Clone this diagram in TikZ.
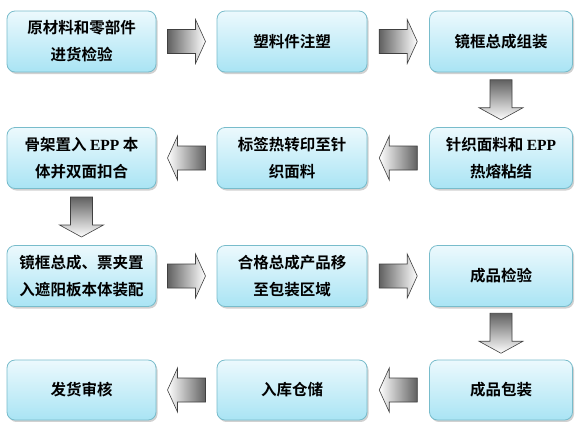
\documentclass[tikz,border=0pt]{standalone}
\usepackage{fontspec}
\setmainfont{Noto Sans CJK SC}[BoldFont={Noto Sans CJK SC Bold}]
\newfontfamily\latinb{Liberation Serif}
\usetikzlibrary{shadows,calc}
\definecolor{boxtop}{HTML}{ECF9FD}
\definecolor{boxbot}{HTML}{A9E4F4}
\definecolor{boxborder}{HTML}{78BCCB}
\newcommand\EPP{{\latinb\bfseries EPP}}
\tikzset{
  stepbox/.style={draw=boxborder, line width=0.8pt, rounded corners=8pt,
    top color=boxtop, bottom color=boxbot, align=center, inner sep=0pt,
    minimum height=61pt,
    font=\fontsize{15.5}{27}\selectfont\bfseries,
    drop shadow={shadow xshift=1.5pt, shadow yshift=-2pt, opacity=0.3, fill=black!60}},
  barrow/.style={draw=black!75, line width=0.6pt}
}
\newcommand\arrR[2]{\begin{scope}[shift={($(#1.east)!0.5!(#2.west)$)}]
  \shade[barrow, left color=black!62, right color=white]
  (-19,-12) -- (9,-12) -- (9,-22) -- (19,0) -- (9,22) -- (9,12) -- (-19,12) -- cycle;
\end{scope}}
\newcommand\arrL[2]{\begin{scope}[shift={($(#1.west)!0.5!(#2.east)$)}]
  \shade[barrow, right color=black!62, left color=white]
  (19,-12) -- (-9,-12) -- (-9,-22) -- (-19,0) -- (-9,22) -- (-9,12) -- (19,12) -- cycle;
\end{scope}}
\newcommand\arrD[2]{\begin{scope}[shift={($(#1.south)!0.5!(#2.north)$)}]
  \shade[barrow, top color=black!62, bottom color=white]
  (-11,-20) -- (11,-20) -- (11,8) -- (22,8) -- (0,20) -- (-22,8) -- (-11,8) -- cycle;
\end{scope}}
\begin{document}
\begin{tikzpicture}[x=1pt,y=-1pt]
\useasboundingbox (0,0) rectangle (575,421);
% row 1
\node[stepbox, minimum width=149pt] (b1) at (81.5,41.5) {原材料和零部件\\进货检验};
\node[stepbox, minimum width=150pt] (b2) at (292,41.5) {塑料件注塑};
\node[stepbox, minimum width=143pt] (b3) at (501,41.5) {镜框总成组装};
% row 2
\node[stepbox, minimum width=143pt] (b4) at (501,158) {针织面料和 \EPP\\热熔粘结};
\node[stepbox, minimum width=150pt] (b5) at (292,158) {标签热转印至针\\织面料};
\node[stepbox, minimum width=149pt] (b6) at (81.5,158) {骨架置入 \EPP{} 本\\体并双面扣合};
% row 3
\node[stepbox, minimum width=149pt] (b7) at (81.5,276) {镜框总成、票夹置\\入遮阳板本体装配};
\node[stepbox, minimum width=150pt] (b8) at (292,276) {合格总成产品移\\至包装区域};
\node[stepbox, minimum width=143pt] (b9) at (501,276) {成品检验};
% row 4
\node[stepbox, minimum width=143pt, minimum height=60pt] (b10) at (501,390) {成品包装};
\node[stepbox, minimum width=150pt, minimum height=60pt] (b11) at (292,390) {入库仓储};
\node[stepbox, minimum width=149pt, minimum height=60pt] (b12) at (81.5,390) {发货审核};
% arrows
\arrR{b1}{b2}
\arrR{b2}{b3}
\arrD{b3}{b4}
\arrL{b4}{b5}
\arrL{b5}{b6}
\arrD{b6}{b7}
\arrR{b7}{b8}
\arrR{b8}{b9}
\arrD{b9}{b10}
\arrL{b10}{b11}
\arrL{b11}{b12}
\end{tikzpicture}
\end{document}
